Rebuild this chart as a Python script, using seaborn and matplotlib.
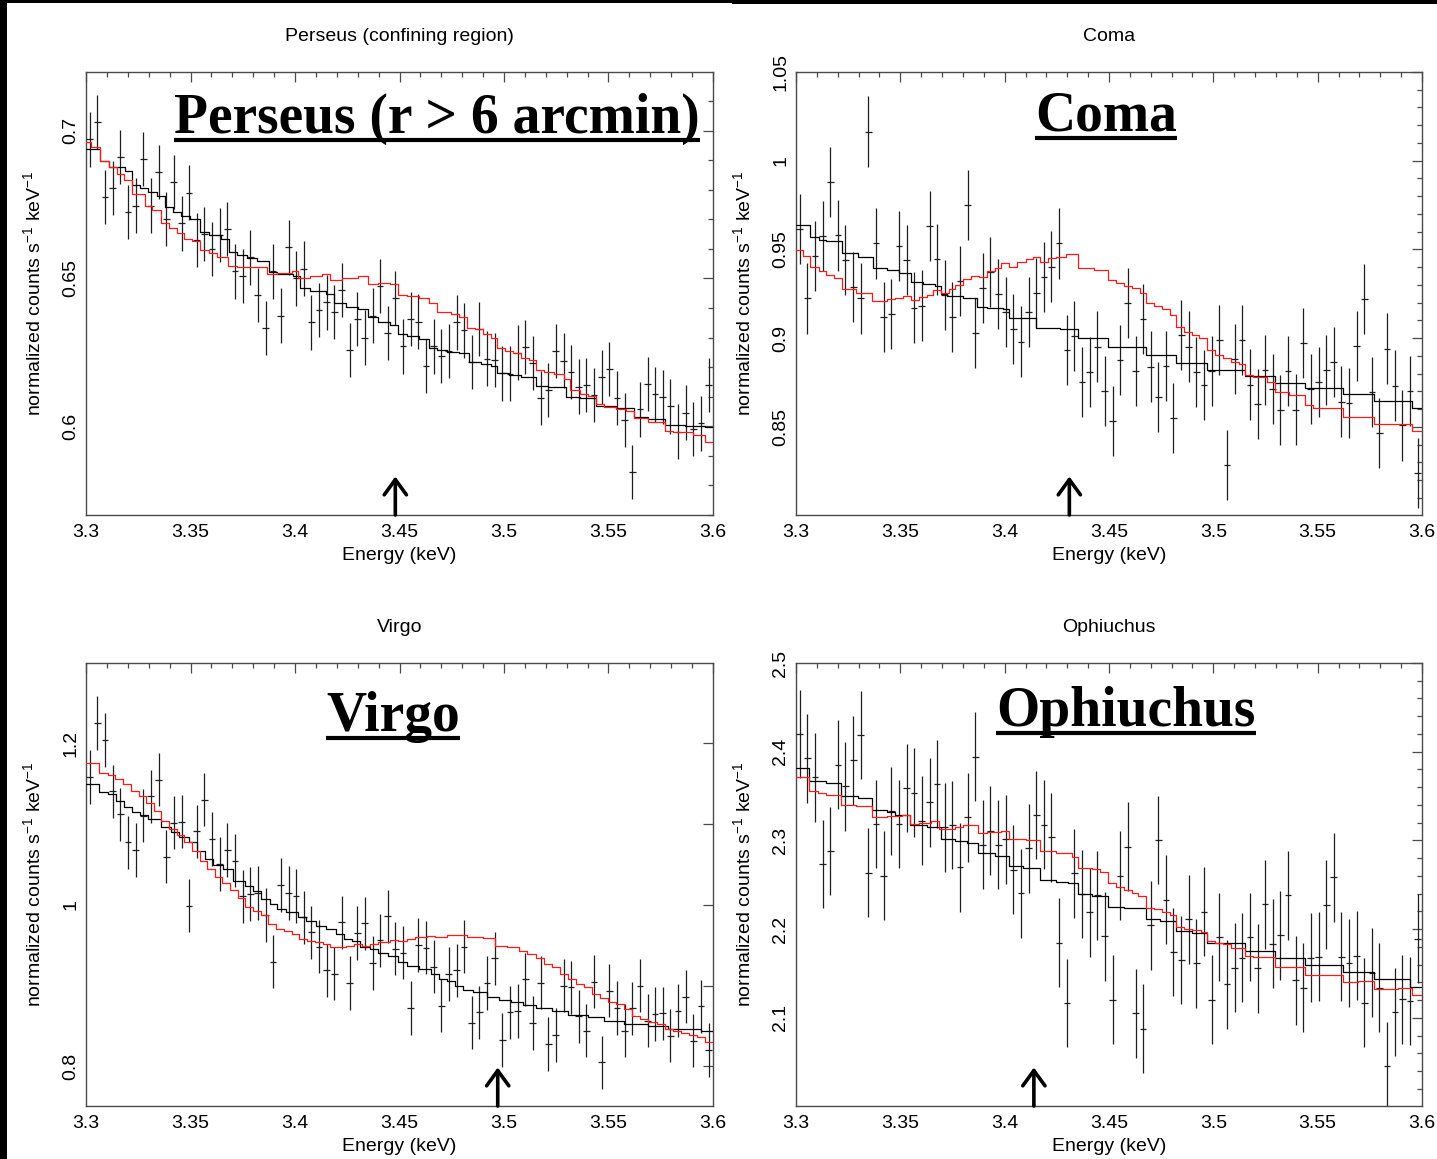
import matplotlib
matplotlib.use("Agg")
import matplotlib.pyplot as plt
import seaborn as sns
import pandas as pd
from matplotlib.patches import Rectangle
from matplotlib.lines import Line2D
from matplotlib.ticker import MultipleLocator

# ---------------- data ----------------
energy = [3.3018, 3.3055, 3.3091, 3.3128, 3.3164, 3.3201, 3.3237, 3.3274, 3.3310, 3.3347,
          3.3384, 3.3420, 3.3457, 3.3493, 3.3530, 3.3566, 3.3603, 3.3640, 3.3676, 3.3713,
          3.3749, 3.3786, 3.3822, 3.3859, 3.3895, 3.3932, 3.3969, 3.4005, 3.4042, 3.4078,
          3.4115, 3.4151, 3.4188, 3.4224, 3.4261, 3.4298, 3.4334, 3.4371, 3.4407, 3.4444,
          3.4480, 3.4517, 3.4553, 3.4590, 3.4627, 3.4663, 3.4700, 3.4736, 3.4773, 3.4809,
          3.4846, 3.4882, 3.4919, 3.4956, 3.4992, 3.5029, 3.5065, 3.5102, 3.5138, 3.5175,
          3.5212, 3.5248, 3.5285, 3.5321, 3.5358, 3.5394, 3.5431, 3.5467, 3.5504, 3.5541,
          3.5577, 3.5614, 3.5650, 3.5687, 3.5723, 3.5760, 3.5796, 3.5833, 3.5870, 3.5906,
          3.5943, 3.5979]
bin_half_width = 0.0016

perseus_counts = [0.6970, 0.7029, 0.6775, 0.6806, 0.6911, 0.6725, 0.6746, 0.6903, 0.6746, 0.6860,
                  0.6701, 0.6826, 0.6686, 0.6790, 0.6629, 0.6650, 0.6600, 0.6646, 0.6668, 0.6524,
                  0.6508, 0.6571, 0.6444, 0.6332, 0.6524, 0.6374, 0.6605, 0.6500, 0.6533, 0.6351,
                  0.6393, 0.6419, 0.6386, 0.6460, 0.6258, 0.6362, 0.6300, 0.6374, 0.6475, 0.6315,
                  0.6433, 0.6270, 0.6362, 0.6354, 0.6204, 0.6270, 0.6238, 0.6255, 0.6351, 0.6324,
                  0.6217, 0.6328, 0.6229, 0.6225, 0.6179, 0.6178, 0.6249, 0.6269, 0.6213, 0.6095,
                  0.6123, 0.6255, 0.6222, 0.6183, 0.6134, 0.6140, 0.6105, 0.6166, 0.6194, 0.6095,
                  0.6021, 0.5846, 0.6057, 0.6142, 0.6108, 0.6099, 0.6067, 0.5982, 0.6046, 0.5990,
                  0.6010, 0.6140]
perseus_err = 0.0092

coma_counts = [0.9615, 0.9224, 0.9464, 0.9577, 0.9880, 0.9579, 0.9442, 0.9287, 0.9224, 1.0164,
               0.9534, 0.9118, 0.9135, 0.9519, 0.9440, 0.9173, 0.9184, 0.9633, 0.9444, 0.9242,
               0.9118, 0.9321, 0.9750, 0.9028, 0.9282, 0.9374, 0.9250, 0.9148, 0.9053, 0.8981,
               0.9148, 0.9256, 0.9346, 0.9404, 0.9534, 0.8934, 0.9011, 0.8755, 0.8808, 0.8953,
               0.8703, 0.8532, 0.8876, 0.9197, 0.8816, 0.9109, 0.8840, 0.8669, 0.8844, 0.8549,
               0.9017, 0.8953, 0.8810, 0.8735, 0.8816, 0.8990, 0.8287, 0.8881, 0.8990, 0.8739,
               0.8631, 0.8821, 0.8712, 0.8594, 0.8817, 0.8598, 0.8972, 0.8712, 0.8755, 0.8819,
               0.8868, 0.8643, 0.8637, 0.8955, 0.9220, 0.8699, 0.8464, 0.8942, 0.8733, 0.8509,
               0.8703, 0.8242]
coma_err = 0.0198

virgo_counts = [1.1583, 1.2252, 1.2041, 1.1405, 1.1120, 1.0777, 1.0682, 1.1107, 1.1343, 1.1550,
                1.0599, 1.1017, 1.1033, 0.9992, 1.0913, 1.1302, 1.0818, 1.0508, 1.0682, 1.0550,
                1.0107, 1.0136, 1.0149, 0.9876, 0.9298, 1.0248, 1.0149, 1.0112, 0.9847, 0.9661,
                0.9483, 0.9190, 0.9149, 0.9785, 0.9033, 0.9653, 0.9773, 0.9281, 0.9562, 0.9860,
                0.9459, 0.9409, 0.8723, 0.9504, 0.9471, 0.9236, 0.8752, 0.9145, 0.9190, 0.9483,
                0.8541, 0.8669, 0.9033, 0.9339, 0.8326, 0.8669, 0.8686, 0.9079, 0.8537, 0.9037,
                0.8277, 0.8388, 0.9000, 0.8979, 0.8620, 0.8442, 0.9050, 0.8050, 0.8938, 0.8723,
                0.8442, 0.8719, 0.9000, 0.8566, 0.8649, 0.8657, 0.8380, 0.8690, 0.8864, 0.8318,
                0.8744, 0.8202]
virgo_err = 0.033

ophiuchus_counts = [2.4199, 2.3925, 2.3710, 2.2733, 2.2880, 2.3853, 2.3609, 2.3902, 2.4188, 2.2635,
                    2.3184, 2.2601, 2.3331, 2.3184, 2.3590, 2.3538, 2.3222, 2.3428, 2.3635, 2.3146,
                    2.3173, 2.2699, 2.3259, 2.3944, 2.2951, 2.3109, 2.2951, 2.3011, 2.2669, 2.2406,
                    2.2910, 2.3286, 2.3177, 2.3034, 2.1849, 2.1169, 2.2628, 2.2395, 2.2188, 2.2383,
                    2.1921, 2.1206, 2.2601, 2.2928, 2.1052, 2.0879, 2.2045, 2.3004, 2.2331, 2.1744,
                    2.1654, 2.2112, 2.1616, 2.2199, 2.1206, 2.1913, 2.1379, 2.1567, 2.1680, 2.1913,
                    2.1560, 2.2282, 2.1838, 2.1932, 2.2383, 2.1424, 2.1342, 2.1680, 2.1688, 2.2278,
                    2.2586, 2.1688, 2.1620, 2.1703, 2.1172, 2.1511, 2.1342, 2.0458, 2.1067, 2.1210,
                    2.1191, 2.1894]
ophiuchus_err = 0.050

# model step curves: left edge energy of each step and its level
perseus_black_e = [3.3000, 3.3068, 3.3110, 3.3187, 3.3222, 3.3260, 3.3299, 3.3338, 3.3376, 3.3415,
                   3.3453, 3.3496, 3.3546, 3.3588, 3.3646, 3.3685, 3.3723, 3.3772, 3.3820, 3.3874,
                   3.3916, 3.3990, 3.4022, 3.4071, 3.4148, 3.4186, 3.4244, 3.4302, 3.4350, 3.4399,
                   3.4456, 3.4495, 3.4534, 3.4591, 3.4640, 3.4678, 3.4726, 3.4784, 3.4833, 3.4890,
                   3.4939, 3.4968, 3.5025, 3.5083, 3.5151, 3.5209, 3.5296, 3.5363, 3.5440, 3.5537,
                   3.5623, 3.5691, 3.5768, 3.5865, 3.5961]
perseus_black_v = [0.6938, 0.6897, 0.6876, 0.6862, 0.6817, 0.6806, 0.6791, 0.6780, 0.6742, 0.6725,
                   0.6712, 0.6701, 0.6656, 0.6647, 0.6633, 0.6591, 0.6580, 0.6569, 0.6558, 0.6521,
                   0.6515, 0.6507, 0.6467, 0.6459, 0.6448, 0.6416, 0.6405, 0.6396, 0.6371, 0.6354,
                   0.6343, 0.6311, 0.6304, 0.6295, 0.6264, 0.6258, 0.6252, 0.6247, 0.6217, 0.6211,
                   0.6205, 0.6179, 0.6174, 0.6168, 0.6137, 0.6132, 0.6100, 0.6095, 0.6067, 0.6061,
                   0.6033, 0.6024, 0.6004, 0.6001, 0.5999]
perseus_red_e = [3.3000, 3.3025, 3.3068, 3.3110, 3.3149, 3.3183, 3.3218, 3.3280, 3.3318, 3.3357,
                 3.3395, 3.3434, 3.3469, 3.3507, 3.3544, 3.3588, 3.3627, 3.3681, 3.3723, 3.3868,
                 3.3916, 3.3984, 3.4013, 3.4071, 3.4128, 3.4167, 3.4225, 3.4302, 3.4350, 3.4399,
                 3.4456, 3.4495, 3.4534, 3.4591, 3.4640, 3.4678, 3.4746, 3.4784, 3.4823, 3.4861,
                 3.4900, 3.4939, 3.4968, 3.5006, 3.5045, 3.5083, 3.5122, 3.5151, 3.5189, 3.5238,
                 3.5286, 3.5315, 3.5363, 3.5402, 3.5440, 3.5479, 3.5537, 3.5585, 3.5623, 3.5691,
                 3.5768, 3.5807, 3.5903, 3.5961]
perseus_red_v = [0.6960, 0.6944, 0.6896, 0.6877, 0.6853, 0.6834, 0.6787, 0.6746, 0.6730, 0.6687,
                 0.6670, 0.6653, 0.6633, 0.6625, 0.6595, 0.6586, 0.6574, 0.6541, 0.6537, 0.6515,
                 0.6518, 0.6524, 0.6501, 0.6507, 0.6516, 0.6495, 0.6501, 0.6507, 0.6482, 0.6484,
                 0.6482, 0.6444, 0.6439, 0.6433, 0.6416, 0.6388, 0.6379, 0.6371, 0.6334, 0.6328,
                 0.6311, 0.6300, 0.6266, 0.6255, 0.6247, 0.6230, 0.6225, 0.6191, 0.6185, 0.6177,
                 0.6159, 0.6123, 0.6109, 0.6103, 0.6074, 0.6064, 0.6059, 0.6050, 0.6027, 0.6016,
                 0.5985, 0.5979, 0.5971, 0.5946]

coma_black_e = [3.3000, 3.3068, 3.3110, 3.3145, 3.3222, 3.3299, 3.3367, 3.3434, 3.3492, 3.3550,
                3.3608, 3.3666, 3.3694, 3.3723, 3.3801, 3.3868, 3.3916, 3.3993, 3.4022, 3.4148,
                3.4264, 3.4350, 3.4495, 3.4678, 3.4823, 3.4968, 3.5151, 3.5296, 3.5440, 3.5623,
                3.5768, 3.5951]
coma_black_v = [0.9639, 0.9573, 0.9554, 0.9545, 0.9479, 0.9460, 0.9395, 0.9385, 0.9370, 0.9314,
                0.9304, 0.9295, 0.9248, 0.9240, 0.9229, 0.9178, 0.9173, 0.9163, 0.9113, 0.9060,
                0.9052, 0.9004, 0.8951, 0.8904, 0.8859, 0.8821, 0.8787, 0.8750, 0.8718, 0.8686,
                0.8646, 0.8605]
coma_red_e = [3.3000, 3.3033, 3.3068, 3.3110, 3.3145, 3.3183, 3.3222, 3.3289, 3.3363, 3.3434,
              3.3473, 3.3511, 3.3550, 3.3588, 3.3627, 3.3656, 3.3694, 3.3733, 3.3762, 3.3801,
              3.3839, 3.3878, 3.3916, 3.3955, 3.3984, 3.4022, 3.4061, 3.4100, 3.4138, 3.4167,
              3.4206, 3.4244, 3.4292, 3.4350, 3.4428, 3.4495, 3.4534, 3.4572, 3.4611, 3.4649,
              3.4678, 3.4717, 3.4755, 3.4794, 3.4823, 3.4861, 3.4900, 3.4929, 3.4968, 3.5006,
              3.5045, 3.5083, 3.5122, 3.5151, 3.5189, 3.5257, 3.5296, 3.5363, 3.5440, 3.5479,
              3.5623, 3.5768, 3.5951]
coma_red_v = [0.9498, 0.9466, 0.9404, 0.9376, 0.9357, 0.9338, 0.9278, 0.9257, 0.9212, 0.9220,
              0.9229, 0.9239, 0.9216, 0.9233, 0.9242, 0.9272, 0.9254, 0.9276, 0.9301, 0.9333,
              0.9351, 0.9344, 0.9376, 0.9395, 0.9423, 0.9404, 0.9427, 0.9445, 0.9460, 0.9432,
              0.9451, 0.9460, 0.9474, 0.9398, 0.9385, 0.9329, 0.9310, 0.9297, 0.9282, 0.9254,
              0.9201, 0.9182, 0.9163, 0.9131, 0.9066, 0.9037, 0.9019, 0.9000, 0.8934, 0.8906,
              0.8887, 0.8868, 0.8853, 0.8793, 0.8780, 0.8755, 0.8699, 0.8680, 0.8624, 0.8605,
              0.8558, 0.8515, 0.8477]

virgo_black_e = [3.3000, 3.3064, 3.3106, 3.3145, 3.3183, 3.3222, 3.3260, 3.3299, 3.3357, 3.3405,
                 3.3444, 3.3492, 3.3530, 3.3569, 3.3608, 3.3656, 3.3704, 3.3762, 3.3801, 3.3839,
                 3.3878, 3.3916, 3.3955, 3.4013, 3.4051, 3.4100, 3.4148, 3.4196, 3.4235, 3.4273,
                 3.4312, 3.4360, 3.4399, 3.4447, 3.4495, 3.4534, 3.4591, 3.4649, 3.4688, 3.4726,
                 3.4765, 3.4804, 3.4852, 3.4919, 3.4977, 3.5035, 3.5093, 3.5151, 3.5228, 3.5305,
                 3.5402, 3.5479, 3.5575, 3.5691, 3.5787, 3.5942]
virgo_black_v = [1.1500, 1.1397, 1.1376, 1.1293, 1.1211, 1.1149, 1.1116, 1.1066, 1.0963, 1.0901,
                 1.0839, 1.0777, 1.0674, 1.0570, 1.0500, 1.0446, 1.0302, 1.0240, 1.0178, 1.0074,
                 1.0012, 0.9950, 0.9909, 0.9847, 0.9806, 0.9744, 0.9702, 0.9640, 0.9579, 0.9558,
                 0.9483, 0.9455, 0.9401, 0.9372, 0.9289, 0.9248, 0.9207, 0.9145, 0.9083, 0.9054,
                 0.9000, 0.8950, 0.8917, 0.8855, 0.8822, 0.8793, 0.8760, 0.8723, 0.8690, 0.8641,
                 0.8607, 0.8566, 0.8525, 0.8496, 0.8463, 0.8434]
virgo_red_e = [3.3000, 3.3064, 3.3106, 3.3141, 3.3179, 3.3214, 3.3253, 3.3289, 3.3324, 3.3361,
               3.3395, 3.3434, 3.3469, 3.3507, 3.3544, 3.3581, 3.3617, 3.3652, 3.3689, 3.3725,
               3.3762, 3.3801, 3.3839, 3.3872, 3.3909, 3.3947, 3.3984, 3.4020, 3.4057, 3.4096,
               3.4132, 3.4169, 3.4244, 3.4283, 3.4321, 3.4360, 3.4399, 3.4456, 3.4495, 3.4534,
               3.4572, 3.4630, 3.4669, 3.4726, 3.4765, 3.4823, 3.4900, 3.4958, 3.5016, 3.5074,
               3.5112, 3.5151, 3.5189, 3.5228, 3.5267, 3.5305, 3.5344, 3.5382, 3.5421, 3.5459,
               3.5498, 3.5537, 3.5575, 3.5614, 3.5652, 3.5691, 3.5730, 3.5768, 3.5807, 3.5845,
               3.5884, 3.5922, 3.5961]
virgo_red_v = [1.1760, 1.1632, 1.1603, 1.1554, 1.1500, 1.1405, 1.1343, 1.1260, 1.1169, 1.1045,
               1.0942, 1.0860, 1.0777, 1.0674, 1.0550, 1.0446, 1.0351, 1.0269, 1.0186, 1.0087,
               0.9979, 0.9921, 0.9880, 0.9764, 0.9702, 0.9674, 0.9640, 0.9579, 0.9550, 0.9537,
               0.9517, 0.9483, 0.9496, 0.9517, 0.9496, 0.9517, 0.9545, 0.9570, 0.9558, 0.9579,
               0.9599, 0.9620, 0.9607, 0.9628, 0.9632, 0.9607, 0.9591, 0.9496, 0.9475, 0.9426,
               0.9393, 0.9339, 0.9269, 0.9227, 0.9145, 0.9083, 0.9021, 0.8979, 0.8897, 0.8847,
               0.8793, 0.8773, 0.8711, 0.8628, 0.8587, 0.8545, 0.8525, 0.8463, 0.8434, 0.8409,
               0.8388, 0.8360, 0.8298]

ophiuchus_black_e = [3.3000, 3.3064, 3.3145, 3.3218, 3.3299, 3.3363, 3.3434, 3.3473, 3.3546, 3.3627,
                     3.3694, 3.3762, 3.3820, 3.3872, 3.3955, 3.4022, 3.4090, 3.4167, 3.4244, 3.4302,
                     3.4350, 3.4418, 3.4495, 3.4572, 3.4678, 3.4746, 3.4823, 3.4900, 3.4968, 3.5151,
                     3.5296, 3.5440, 3.5623, 3.5768, 3.5942]
ophiuchus_black_v = [2.3812, 2.3673, 2.3643, 2.3504, 2.3477, 2.3346, 2.3316, 2.3289, 2.3177, 2.3146,
                     2.3015, 2.2989, 2.2966, 2.2857, 2.2827, 2.2707, 2.2688, 2.2556, 2.2537, 2.2515,
                     2.2395, 2.2379, 2.2255, 2.2237, 2.2112, 2.2094, 2.1981, 2.1962, 2.1849, 2.1755,
                     2.1673, 2.1597, 2.1518, 2.1436, 2.1349]
ophiuchus_red_e = [3.3000, 3.3064, 3.3106, 3.3145, 3.3218, 3.3289, 3.3363, 3.3434, 3.3507, 3.3546,
                   3.3588, 3.3646, 3.3685, 3.3762, 3.3801, 3.3872, 3.3916, 3.3984, 3.4022, 3.4100,
                   3.4167, 3.4244, 3.4321, 3.4350, 3.4418, 3.4456, 3.4495, 3.4534, 3.4572, 3.4611,
                   3.4640, 3.4678, 3.4717, 3.4755, 3.4794, 3.4823, 3.4861, 3.4900, 3.4939, 3.4968,
                   3.5006, 3.5045, 3.5083, 3.5151, 3.5189, 3.5296, 3.5440, 3.5623, 3.5691, 3.5768,
                   3.5884, 3.5951]
ophiuchus_red_v = [2.3710, 2.3560, 2.3534, 2.3515, 2.3398, 2.3383, 2.3267, 2.3274, 2.3286, 2.3184,
                   2.3195, 2.3214, 2.3128, 2.3154, 2.3173, 2.3083, 2.3098, 2.3109, 2.3015, 2.3007,
                   2.2876, 2.2857, 2.2819, 2.2695, 2.2677, 2.2639, 2.2515, 2.2470, 2.2443, 2.2406,
                   2.2372, 2.2244, 2.2225, 2.2199, 2.2161, 2.2030, 2.2007, 2.1988, 2.1970, 2.1868,
                   2.1842, 2.1831, 2.1793, 2.1699, 2.1688, 2.1579, 2.1485, 2.1409, 2.1417, 2.1330,
                   2.1342, 2.1259]

x_ticks = [3.3, 3.35, 3.4, 3.45, 3.5, 3.55, 3.6]
x_ticklabels = ["3.3", "3.35", "3.4", "3.45", "3.5", "3.55", "3.6"]

titles = ["Perseus (confining region)", "Coma", "Virgo", "Ophiuchus"]
big_labels = ["Perseus (r > 6 arcmin)", "Coma", "Virgo", "Ophiuchus"]
line_energies = [3.448, 3.431, 3.497, 3.414]

perseus_yticks = [0.6, 0.65, 0.7]
perseus_yticklabels = ["0.6", "0.65", "0.7"]
coma_yticks = [0.85, 0.9, 0.95, 1.0, 1.05]
coma_yticklabels = ["0.85", "0.9", "0.95", "1", "1.05"]
virgo_yticks = [0.8, 0.9, 1.0, 1.1, 1.2]
virgo_yticklabels = ["0.8", "", "1", "", "1.2"]
ophiuchus_yticks = [2.1, 2.2, 2.3, 2.4, 2.5]
ophiuchus_yticklabels = ["2.1", "2.2", "2.3", "2.4", "2.5"]

# ---------------- style ----------------
sns.set_theme(style="white")
plt.rcParams["font.family"] = ["Liberation Sans", "DejaVu Sans"]
plt.rcParams["mathtext.fontset"] = "custom"
plt.rcParams["mathtext.rm"] = "Liberation Sans"
plt.rcParams["mathtext.default"] = "regular"

W, H = 1437, 1159
fig = plt.figure(figsize=(W / 100, H / 100), dpi=100)
fig.patch.set_facecolor("white")

def fx(px):
    return px / W

def fy(py):
    return 1 - py / H

panel_boxes = [(86, 72, 713, 515), (796, 72, 1422, 515),
               (86, 663, 713, 1106), (796, 663, 1422, 1106)]

panels = [
    dict(counts=perseus_counts, err=perseus_err, be=perseus_black_e, bv=perseus_black_v,
         re=perseus_red_e, rv=perseus_red_v, ylim=(0.570, 0.7198), yt=perseus_yticks,
         ytl=perseus_yticklabels, minor=0.01, lab_x=0.560, lab_y=0.862),
    dict(counts=coma_counts, err=coma_err, be=coma_black_e, bv=coma_black_v,
         re=coma_red_e, rv=coma_red_v, ylim=(0.8004, 1.05), yt=coma_yticks,
         ytl=coma_yticklabels, minor=0.01, lab_x=0.495, lab_y=0.867),
    dict(counts=virgo_counts, err=virgo_err, be=virgo_black_e, bv=virgo_black_v,
         re=virgo_red_e, rv=virgo_red_v, ylim=(0.751, 1.2996), yt=virgo_yticks,
         ytl=virgo_yticklabels, minor=None, lab_x=0.490, lab_y=0.846),
    dict(counts=ophiuchus_counts, err=ophiuchus_err, be=ophiuchus_black_e, bv=ophiuchus_black_v,
         re=ophiuchus_red_e, rv=ophiuchus_red_v, ylim=(2.0007, 2.5), yt=ophiuchus_yticks,
         ytl=ophiuchus_yticklabels, minor=0.02, lab_x=0.527, lab_y=0.858),
]

frame_color = "#4a4a4a"
text_size = 14
big_texts = []

for i, (p, box) in enumerate(zip(panels, panel_boxes)):
    x0, y0, x1, y1 = box
    ax = fig.add_axes([fx(x0), fy(y1), fx(x1) - fx(x0), fy(y0) - fy(y1)])
    ax.set_facecolor("white")

    # data points with error bars
    ax.errorbar(energy, p["counts"], yerr=p["err"], xerr=bin_half_width, fmt="none",
                ecolor="#1e1e1e", elinewidth=0.9, capsize=0, zorder=3)

    # model step curves
    black_df = pd.DataFrame({"E": p["be"] + [3.6], "v": p["bv"] + [p["bv"][-1]]})
    red_df = pd.DataFrame({"E": p["re"] + [3.6], "v": p["rv"] + [p["rv"][-1]]})
    sns.lineplot(data=black_df, x="E", y="v", ax=ax, color="black", lw=0.9,
                 drawstyle="steps-post", estimator=None, sort=False, zorder=4)
    sns.lineplot(data=red_df, x="E", y="v", ax=ax, color="#ff1a1a", lw=0.9,
                 drawstyle="steps-post", estimator=None, sort=False, zorder=5)

    ax.set_xlim(3.3, 3.6)
    ax.set_ylim(*p["ylim"])
    ax.set_xticks(x_ticks)
    ax.set_xticklabels(x_ticklabels)
    ax.xaxis.set_minor_locator(MultipleLocator(0.01))
    ax.set_yticks(p["yt"])
    ax.set_yticklabels(p["ytl"])
    if p["minor"] is not None:
        ax.yaxis.set_minor_locator(MultipleLocator(p["minor"]))

    ax.tick_params(which="both", direction="in", top=True, right=True,
                   color=frame_color, width=0.9, labelsize=text_size, labelcolor="black")
    ax.tick_params(which="major", length=7)
    ax.tick_params(which="minor", length=3.5)
    ax.tick_params(axis="x", pad=6.5)
    ax.tick_params(axis="y", pad=5, labelrotation=90)
    for lab in ax.get_yticklabels():
        lab.set_va("center")
    for sp in ax.spines.values():
        sp.set_color(frame_color)
        sp.set_linewidth(1.0)

    ax.set_xlabel("Energy (keV)", fontsize=text_size, labelpad=4.5, color="black")
    ax.set_ylabel(r"normalized counts s$^{-1}$ keV$^{-1}$", fontsize=text_size, labelpad=13,
                  color="black")
    ax.set_title(titles[i], fontsize=text_size, pad=22, color="black")

    # line energy arrow
    ax.annotate("", xy=(line_energies[i], 0.087), xycoords=("data", "axes fraction"),
                xytext=(line_energies[i], 0.0), textcoords=("data", "axes fraction"),
                arrowprops=dict(arrowstyle="->,head_length=0.55,head_width=0.4",
                                lw=2.6, color="black", mutation_scale=20,
                                shrinkA=0, shrinkB=0), zorder=6)

    t = ax.text(p["lab_x"], p["lab_y"], big_labels[i], transform=ax.transAxes,
                ha="center", va="baseline", fontsize=40, fontweight="bold",
                family=["Liberation Serif", "DejaVu Serif"], color="black", zorder=7)
    big_texts.append((ax, t))

# black frame along the left and top edge
fig.add_artist(Rectangle((0, 0), fx(7), 1, transform=fig.transFigure,
                         facecolor="black", edgecolor="none", zorder=10))
fig.add_artist(Rectangle((0, fy(3)), fx(732), 3 / H, transform=fig.transFigure,
                         facecolor="black", edgecolor="none", zorder=10))
fig.add_artist(Rectangle((fx(732), fy(4)), 1 - fx(732), 4 / H, transform=fig.transFigure,
                         facecolor="black", edgecolor="none", zorder=10))

# underline the big labels
fig.canvas.draw()
renderer = fig.canvas.get_renderer()
for ax, t in big_texts:
    bb = t.get_window_extent(renderer)
    base_disp = ax.transAxes.transform((0, t.get_position()[1]))[1]
    y_line = base_disp - 7
    inv = fig.transFigure.inverted()
    (fx0, fy0) = inv.transform((bb.x0, y_line))
    (fx1, _) = inv.transform((bb.x1, y_line))
    fig.add_artist(Line2D([fx0, fx1], [fy0, fy0], transform=fig.transFigure,
                          color="black", lw=3.0, solid_capstyle="butt", zorder=8))

fig.savefig("out.png", dpi=100, facecolor="white")
